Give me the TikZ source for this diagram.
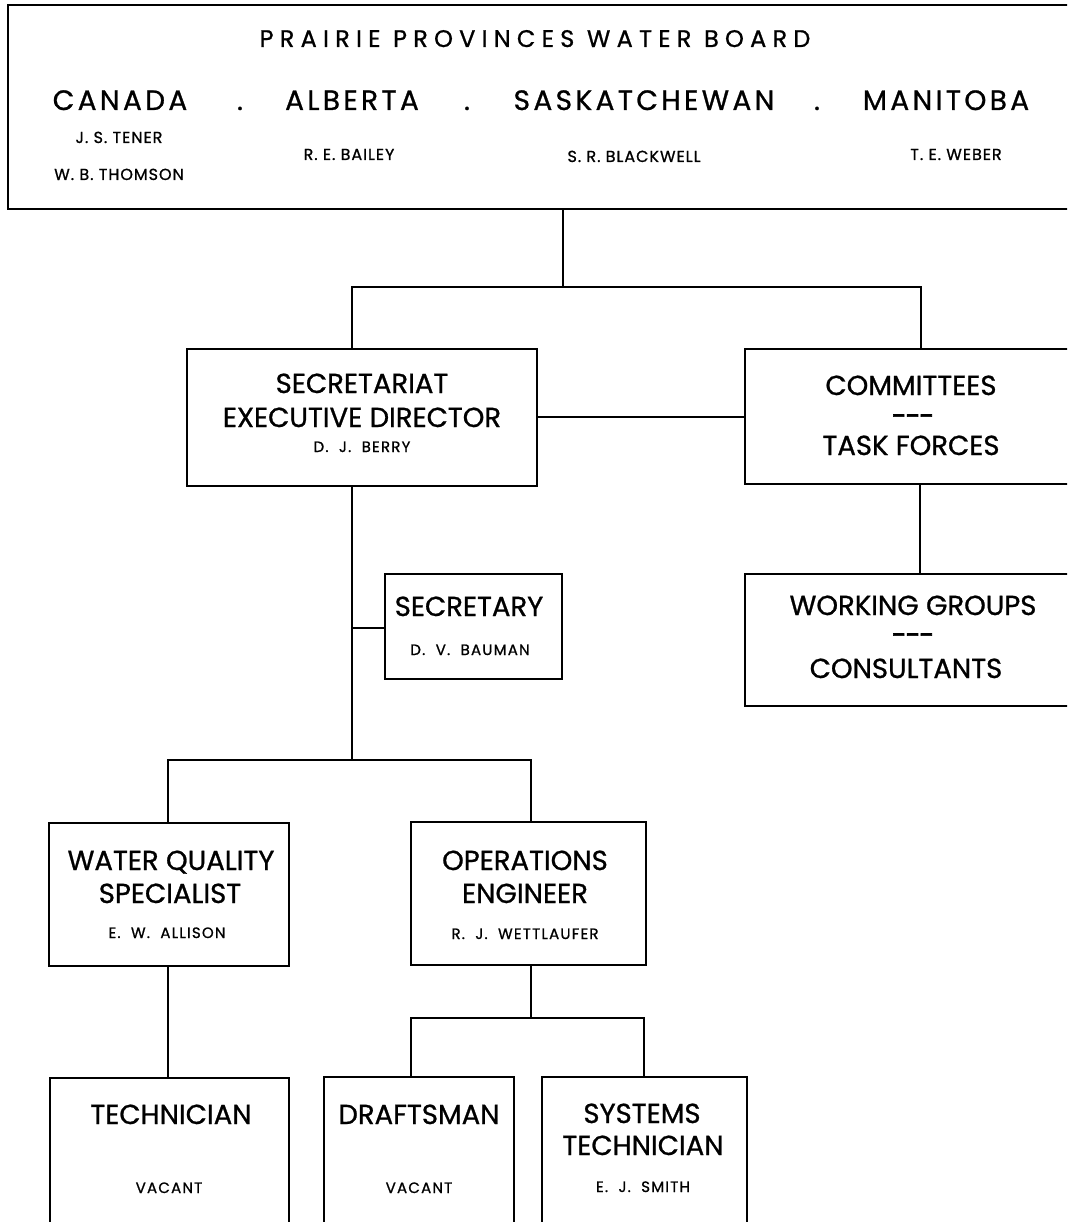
\documentclass[tikz,border=0pt]{standalone}
\usepackage{fontspec}
\setmainfont[FakeBold=0.9]{Poppins}
\begin{document}
\begin{tikzpicture}[x=1pt,y=-1pt,
  box/.style={draw,line width=1.8pt,inner sep=0pt,outer sep=0pt,anchor=north west},
  wire/.style={line width=1.8pt},
  ttl/.style={font=\fontsize{27.5}{27.5}\selectfont,anchor=base,inner sep=0pt},
  nm/.style={font=\fontsize{15}{15}\selectfont\addfontfeature{LetterSpace=8},anchor=base,inner sep=0pt},
  tnm/.style={font=\fontsize{16}{16}\selectfont\addfontfeature{LetterSpace=6},anchor=base,inner sep=0pt},
  prov/.style={font=\fontsize{28}{28}\selectfont\addfontfeature{LetterSpace=12},anchor=base,inner sep=0pt},
  dsh/.style={font=\fontsize{27}{27}\selectfont\addfontfeature{FakeBold=2.5,LetterSpace=-4},anchor=center,inner sep=0pt}
]
\useasboundingbox (0,0) rectangle (1067,1222);
\clip (0,0) rectangle (1067,1222);
\fill[white] (0,0) rectangle (1067,1222);

% boxes
\node[box,minimum width=1090pt,minimum height=204pt] (top) at (8,5) {};
\node[box,minimum width=350pt,minimum height=137pt] (sec) at (187,349) {};
\node[box,minimum width=340pt,minimum height=135pt] (com) at (745,349) {};
\node[box,minimum width=340pt,minimum height=132pt] (wg) at (745,574) {};
\node[box,minimum width=177pt,minimum height=105pt] (secy) at (385,574) {};
\node[box,minimum width=240pt,minimum height=143pt] (wq) at (49,823) {};
\node[box,minimum width=235pt,minimum height=143pt] (ops) at (411,822) {};
\node[box,minimum width=239pt,minimum height=170pt] (tech) at (50,1078) {};
\node[box,minimum width=190pt,minimum height=170pt] (draft) at (324,1077) {};
\node[box,minimum width=205pt,minimum height=170pt] (sys) at (542,1077) {};

% junction coordinates
\coordinate (j0) at (563,287);
\coordinate (jl) at (352,287);
\coordinate (jr) at (921,287);
\coordinate (cs) at (640,417);
\coordinate (k) at (352,760);
\coordinate (ks) at (352,628);
\coordinate (kl) at (168,760);
\coordinate (kr) at (531,760);
\coordinate (m) at (531,1018);
\coordinate (ml) at (411,1018);
\coordinate (mr) at (644,1018);
\coordinate (cw) at (920,530);

% connectors
\draw[wire] (top.south -| j0) -- (j0);
\draw[wire] (sec.north -| jl) -- (jl) -- (jr) -- (com.north -| jr);
\draw[wire] (sec.east |- cs) -- (com.west |- cs);
\draw[wire] (com.south -| cw) -- (wg.north -| cw);
\draw[wire] (sec.south -| k) -- (k);
\draw[wire] (ks) -- (secy.west |- ks);
\draw[wire] (wq.north -| kl) -- (kl) -- (kr) -- (ops.north -| kr);
\draw[wire] (wq.south -| kl) -- (tech.north -| kl);
\draw[wire] (ops.south -| m) -- (m);
\draw[wire] (draft.north -| ml) -- (ml) -- (mr) -- (sys.north -| mr);

% top box texts
\node[font=\fontsize{24}{24}\selectfont\addfontfeature{LetterSpace=26},anchor=base,inner sep=0pt] (board) at (535,47) {PRAIRIE PROVINCES WATER BOARD};
\node[prov] (canada) at (120,110) {CANADA};
\node[prov] (d1) at (240,110) {.};
\node[prov] (alberta) at (352,110) {ALBERTA};
\node[prov] (d2) at (467,110) {.};
\node[prov] (sask) at (644,110) {SASKATCHEWAN};
\node[prov] (d3) at (817,110) {.};
\node[prov] (manitoba) at (946,110) {MANITOBA};
\node[tnm] (tener) at (119,143) {J.\ S.\ TENER};
\node[tnm] (thomson) at (119,180) {W.\ B.\ THOMSON};
\node[tnm] (bailey) at (349,160) {R.\ E.\ BAILEY};
\node[tnm] (blackwell) at (634,162) {S.\ R.\ BLACKWELL};
\node[tnm] (weber) at (956,160) {T.\ E.\ WEBER};

% secretariat
\node[ttl] (sec1) at (362,393) {SECRETARIAT};
\node[ttl] (sec2) at (362,427) {EXECUTIVE DIRECTOR};
\node[nm] (sec3) at (362,452) {D.\ \ J.\ \ BERRY};

% committees
\node[ttl] (com1) at (911,395) {COMMITTEES};
\node[dsh] (com2) at (913,420) {{-}{-}{-}};
\node[ttl] (com3) at (911,455) {TASK FORCES};

% working groups
\node[ttl] (wg1) at (913,615) {WORKING GROUPS};
\node[dsh] (wg2) at (913,639) {{-}{-}{-}};
\node[ttl] (wg3) at (906,678) {CONSULTANTS};

% secretary
\node[ttl] (secy1) at (469,616) {SECRETARY};
\node[nm] (secy2) at (470,655) {D.\ \ V.\ \ BAUMAN};

% water quality
\node[ttl] (wq1) at (171,870) {WATER QUALITY};
\node[ttl] (wq2) at (170,903) {SPECIALIST};
\node[nm] (wq3) at (167,938) {E.\ \ W.\ \ ALLISON};

% operations
\node[ttl] (ops1) at (525,870) {OPERATIONS};
\node[ttl] (ops2) at (525,903) {ENGINEER};
\node[nm] (ops3) at (525,939) {R.\ \ J.\ \ WETTLAUFER};

% technician
\node[ttl] (tech1) at (171,1124) {TECHNICIAN};
\node[nm] (tech2) at (169,1193) {VACANT};

% draftsman
\node[ttl] (draft1) at (419,1124) {DRAFTSMAN};
\node[nm] (draft2) at (419,1193) {VACANT};

% systems technician
\node[ttl] (sys1) at (642,1123) {SYSTEMS};
\node[ttl] (sys2) at (643,1155) {TECHNICIAN};
\node[nm] (sys3) at (643,1192) {E.\ \ J.\ \ SMITH};
\end{tikzpicture}
\end{document}
